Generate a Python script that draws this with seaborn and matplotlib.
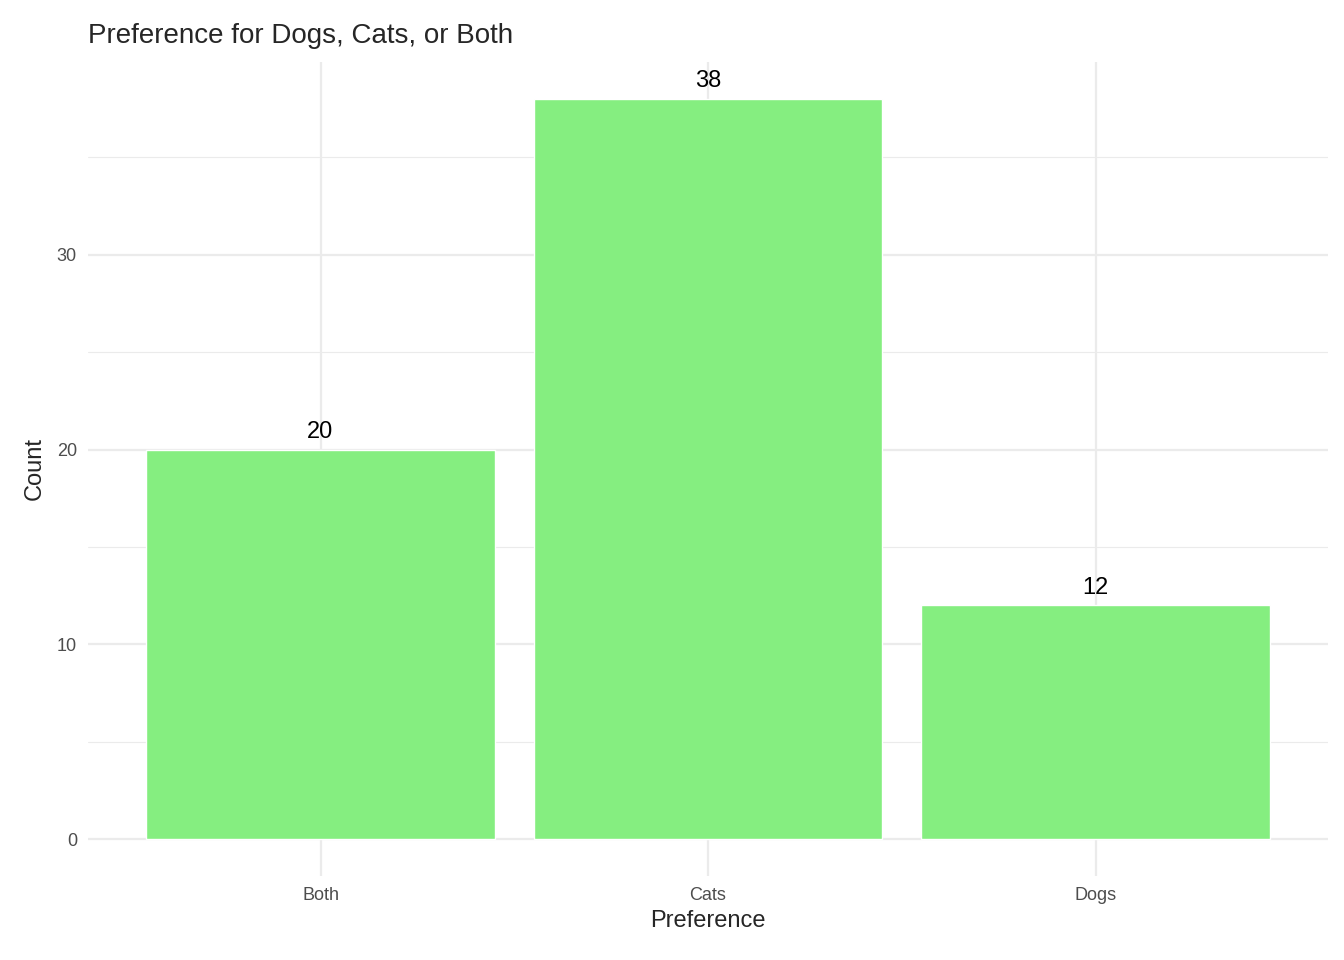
import seaborn as sns
import matplotlib.pyplot as plt
import pandas as pd

# data
preference = ["Both", "Cats", "Dogs"]
counts = [20, 38, 12]

df = pd.DataFrame({"Preference": preference, "Count": counts})

sns.set_style("white")
plt.rcParams['font.family'] = ['Liberation Sans', 'DejaVu Sans']

fig = plt.figure(figsize=(13.44, 9.6), dpi=100)
ax = fig.add_axes([88 / 1344, 84 / 960, 1240 / 1344, 814 / 960])

sns.barplot(data=df, x="Preference", y="Count", color="#85EE80",
            width=0.9, saturation=1, ax=ax, zorder=3)

for i, v in enumerate(counts):
    ax.text(i, v + 0.35, str(v), ha="center", va="bottom", fontsize=17, color="black", zorder=4)

ax.set_xlim(-0.6, 2.6)
ax.set_ylim(-1.9, 39.9)
ax.set_yticks([0, 10, 20, 30])
ax.set_yticks([5, 15, 25, 35], minor=True)
ax.grid(True, which="major", color="#EBEBEB", linewidth=1.6, zorder=0)
ax.grid(True, which="minor", axis="y", color="#EBEBEB", linewidth=0.8, zorder=0)
ax.set_axisbelow(True)
for s in ax.spines.values():
    s.set_visible(False)
ax.tick_params(axis="both", which="both", length=0, labelsize=13, labelcolor="#4D4D4D", pad=8)

ax.set_xlabel("Preference", fontsize=17, labelpad=4)
ax.set_ylabel("Count", fontsize=17, labelpad=8)
ax.set_title("Preference for Dogs, Cats, or Both", fontsize=20, loc="left", x=0, pad=14)

fig.savefig("out.png", dpi=100)
